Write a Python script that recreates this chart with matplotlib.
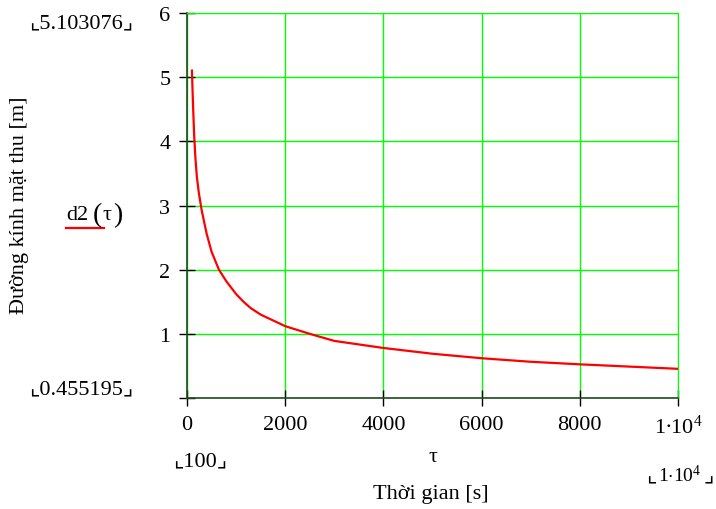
import matplotlib
matplotlib.use("Agg")
import matplotlib.pyplot as plt

# data
tau = [100, 120, 145, 170, 200, 240, 300, 400, 500, 650, 800, 1000, 1150,
       1300, 1500, 1750, 2000, 2500, 3000, 4000, 5000, 6000, 7000, 8000,
       9000, 10000]
d2 = [5.103, 4.62, 4.10, 3.75, 3.45, 3.20, 2.92, 2.56, 2.28, 2.00, 1.82,
      1.62, 1.50, 1.40, 1.30, 1.21, 1.12, 1.00, 0.89, 0.78, 0.69, 0.62,
      0.565, 0.525, 0.49, 0.455]
x_ticks = [0, 2000, 4000, 6000, 8000, 10000]
x_tick_labels = ["0", "2000", "4000", "6000", "8000", r"1$\bullet$10$^{4}$"]
y_ticks = [0, 1, 2, 3, 4, 5, 6]
y_tick_labels = ["", "1", "2", "3", "4", "5", "6"]

serif = ["Liberation Serif", "DejaVu Sans"]
plt.rcParams["font.family"] = serif
plt.rcParams["mathtext.fontset"] = "custom"
plt.rcParams["mathtext.rm"] = "Liberation Serif"
plt.rcParams["mathtext.it"] = "Liberation Serif"

W, H = 716, 510
fig = plt.figure(figsize=(W / 100, H / 100), dpi=100)
ax = fig.add_axes([0.2612, 0.2176, 0.6858, 0.7549])

def px(x, y):
    return x / W, 1 - y / H

ax.plot(tau, d2, color="#ff0000", lw=1.6, zorder=3)
ax.set_xlim(0, 10000)
ax.set_ylim(0, 6)
ax.set_xticks(x_ticks)
ax.set_xticklabels(x_tick_labels)
ax.set_yticks(y_ticks)
ax.set_yticklabels(y_tick_labels)
ax.grid(True, color="#00ff00", lw=1.0)
ax.set_axisbelow(True)
for s in ["top", "right"]:
    ax.spines[s].set_color("#00ff00")
for s in ["left", "bottom"]:
    ax.spines[s].set_color("#1f4a1f")
    ax.spines[s].set_linewidth(1.2)
ax.tick_params(direction="inout", length=12, width=1, color="black",
               labelsize=16, pad=6)

# Mathcad-style annotations
fs = 16
fig.text(*px(81, 24), "⌞5.103076⌟", ha="center", va="center", fontsize=fs)
fig.text(*px(81, 390), "⌞0.455195⌟", ha="center", va="center", fontsize=fs)
fig.text(*px(200, 462), "⌞100⌟", ha="center", va="center", fontsize=fs)
fig.text(*px(656, 482), "⌞", ha="right", va="baseline", fontsize=fs)
fig.text(*px(658, 482), "1$\\cdot$10$^{4}$", ha="left", va="baseline", fontsize=14)
fig.text(*px(704, 482), "⌟", ha="left", va="baseline", fontsize=fs)
fig.text(*px(433, 458), "τ", ha="center", va="center", fontsize=fs)
fig.text(*px(431, 495), "Thời gian [s]", ha="center", va="center", fontsize=fs)
fig.text(*px(20, 205), "Đường kính mặt thu [m]", ha="center", va="center",
         fontsize=fs, rotation=90)
fig.text(*px(66, 220), "d2", ha="left", va="baseline", fontsize=fs)
fig.text(*px(97, 222), "(", ha="center", va="baseline", fontsize=20)
fig.text(*px(107, 220), "τ", ha="center", va="baseline", fontsize=fs)
fig.text(*px(118, 222), ")", ha="center", va="baseline", fontsize=20)
fig.add_artist(plt.Line2D([66 / W, 104 / W], [1 - 229 / H, 1 - 229 / H],
                          color="#ff0000", lw=1.6))

fig.savefig("out.png", dpi=100)
